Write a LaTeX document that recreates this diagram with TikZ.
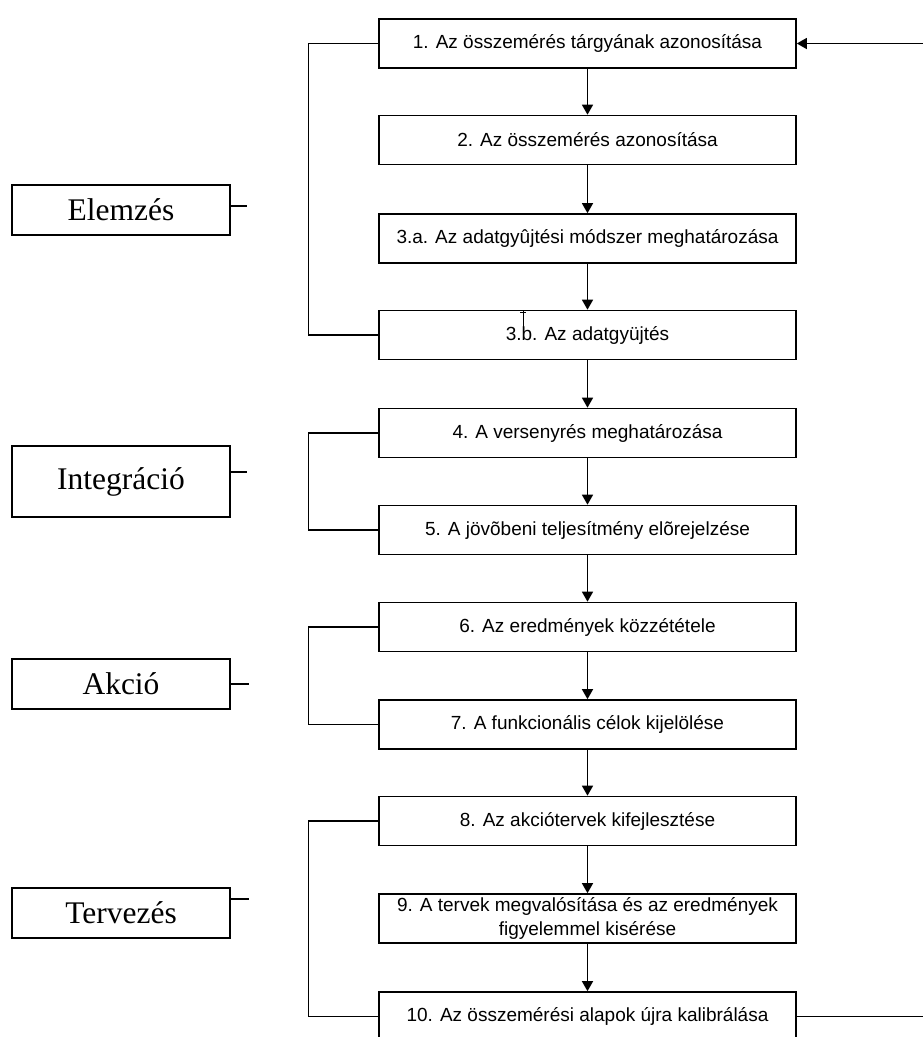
\documentclass[tikz,border=0pt]{standalone}
\usepackage{fontspec}
\setmainfont{Liberation Serif}
\newfontfamily\boxfont{Liberation Sans}
\usetikzlibrary{arrows.meta}
\begin{document}
\begin{tikzpicture}[x=1pt,y=-1pt,
 stepbox/.style={draw,line width=1.6pt,minimum width=417pt,minimum height=49pt,inner sep=0pt,
   font=\boxfont\fontsize{19}{24}\selectfont,align=center},
 phase/.style={draw,line width=1.6pt,inner sep=0pt,minimum width=218pt,
   font=\fontsize{31.5}{36}\selectfont},
 flow/.style={line width=1.3pt,-{Triangle[length=10pt,width=11pt]}},
 loopline/.style={line width=1.3pt},
 tickline/.style={line width=1.2pt}]
\path[use as bounding box, clip] (0,0) rectangle (923,1037);
\fill[white] (0,0) rectangle (923,1037);
% main steps
\node[stepbox] (b1)  at (587.5,43.5)  {1. Az összemérés tárgyának azonosítása};
\node[stepbox] (b2)  at (587.5,140)   {2. Az összemérés azonosítása};
\node[stepbox] (b3a) at (587.5,238.5) {3.a. Az adatgyûjtési módszer meghatározása};
\node[stepbox] (b3b) at (587.5,335)   {3.b. Az adatgyüjtés};
\node[stepbox] (b4)  at (587.5,433)   {4. A versenyrés meghatározása};
\node[stepbox] (b5)  at (587.5,530)   {5. A jövõbeni teljesítmény elõrejelzése};
\node[stepbox] (b6)  at (587.5,627)   {6. Az eredmények közzététele};
\node[stepbox] (b7)  at (587.5,724.5) {7. A funkcionális célok kijelölése};
\node[stepbox] (b8)  at (587.5,821)   {8. Az akciótervek kifejlesztése};
\node[stepbox] (b9)  at (587.5,918.5) {9. A tervek megvalósítása és az eredmények\\figyelemmel kisérése};
\node[stepbox] (b10) at (587.5,1016.5) {10. Az összemérési alapok újra kalibrálása};
% text cursor mark in 3.b
\draw[line width=0.8pt] (523,311) -- (523,327);
\draw[line width=0.8pt] (520,312) -- (526,312);
% flow arrows
\draw[flow] (b1) -- (b2);
\draw[flow] (b2) -- (b3a);
\draw[flow] (b3a) -- (b3b);
\draw[flow] (b3b) -- (b4);
\draw[flow] (b4) -- (b5);
\draw[flow] (b5) -- (b6);
\draw[flow] (b6) -- (b7);
\draw[flow] (b7) -- (b8);
\draw[flow] (b8) -- (b9);
\draw[flow] (b9) -- (b10);
% feedback from 10 to 1
\coordinate (rx) at (960,0);
\draw[flow] (b10.east) -- (b10.east -| rx) |- (b1.east);
% left loops
\draw[loopline] (b1.west) -- ++(-70,0) |- (b3b.west);
\draw[loopline] (b4.west) -- ++(-70,0) |- (b5.west);
\draw[loopline] (b6.west) -- ++(-70,0) |- (b7.west);
\draw[loopline] (b8.west) -- ++(-70,0) |- (b10.west);
% phase labels
\node[phase,minimum height=50pt] (p1) at (121,210)   {Elemzés};
\node[phase,minimum height=71pt] (p2) at (121,481.5) {Integráció};
\node[phase,minimum height=50pt] (p3) at (121,684)   {Akció};
\node[phase,minimum height=50pt] (p4) at (121,913)   {Tervezés};
\coordinate (t1) at (247,206);
\coordinate (t2) at (247,472);
\coordinate (t3) at (249,684);
\coordinate (t4) at (249,899);
\draw[tickline] (t1 -| p1.east) -- (t1);
\draw[tickline] (t2 -| p2.east) -- (t2);
\draw[tickline] (t3 -| p3.east) -- (t3);
\draw[tickline] (t4 -| p4.east) -- (t4);
\end{tikzpicture}
\end{document}
